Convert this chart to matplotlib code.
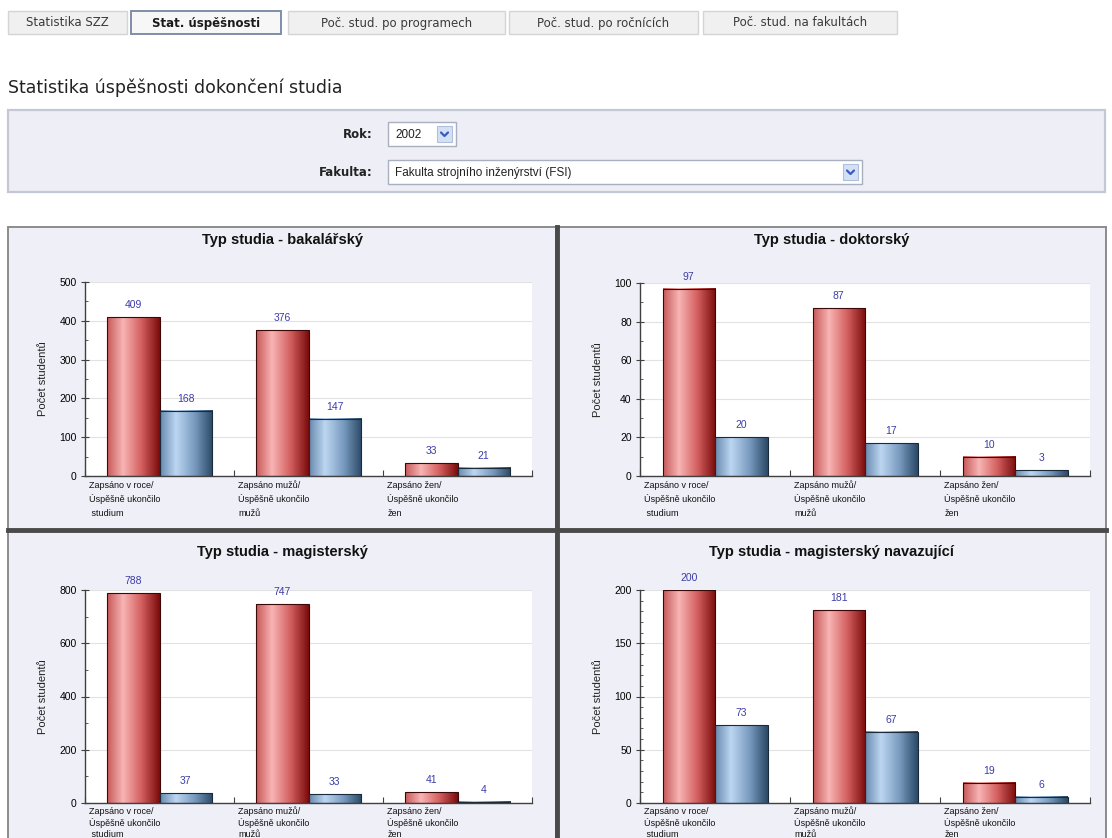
import numpy as np
import matplotlib
matplotlib.use("Agg")
import matplotlib.pyplot as plt
from matplotlib.patches import Rectangle
from matplotlib.colors import LinearSegmentedColormap
from matplotlib.ticker import MultipleLocator, AutoMinorLocator

W, H = 1112, 838

# page header
tabs = ["Statistika SZZ", "Stat. úspěšnosti", "Poč. stud. po programech",
        "Poč. stud. po ročnících", "Poč. stud. na fakultách"]
active_tab = 1
page_title = "Statistika úspěšnosti dokončení studia"
rok = "2002"
fakulta = "Fakulta strojního inženýrství (FSI)"

# chart data
categories = ["Zapsáno v roce/\nÚspěšně ukončilo\n studium",
              "Zapsáno mužů/\nÚspěšně ukončilo\nmužů",
              "Zapsáno žen/\nÚspěšně ukončilo\nžen"]

bak_zapsano = [409, 376, 33]
bak_ukoncilo = [168, 147, 21]
dok_zapsano = [97, 87, 10]
dok_ukoncilo = [20, 17, 3]
mag_zapsano = [788, 747, 41]
mag_ukoncilo = [37, 33, 4]
nav_zapsano = [200, 181, 19]
nav_ukoncilo = [73, 67, 6]

titles = ["Typ studia - bakalářský", "Typ studia - doktorský",
          "Typ studia - magisterský", "Typ studia - magisterský navazující"]
y_max = [500, 100, 800, 200]
y_step = [100, 20, 200, 50]
y_minor = [2, 2, 2, 5]

red_cm = LinearSegmentedColormap.from_list(
    "red", [(0, "#c85a5a"), (0.3, "#f8b4b4"), (0.65, "#d46060"), (1, "#7c0c0c")])
blue_cm = LinearSegmentedColormap.from_list(
    "blue", [(0, "#6a8cb0"), (0.3, "#bcd6f2"), (0.65, "#7a9cc0"), (1, "#2c4a68")])

fig = plt.figure(figsize=(W / 100, H / 100), dpi=100)
fig.patch.set_facecolor("white")

bg = fig.add_axes([0, 0, 1, 1])
bg.set_xlim(0, W)
bg.set_ylim(H, 0)
bg.axis("off")

# tabs
tab_x = [(8, 127), (131, 281), (288, 505), (509, 698), (703, 897)]
for i, (name, (x0, x1)) in enumerate(zip(tabs, tab_x)):
    act = i == active_tab
    bg.add_patch(Rectangle((x0, 11), x1 - x0, 23,
                           facecolor="#f7f7f7" if act else "#f0f0f0",
                           edgecolor="#7f8ea8" if act else "#d4d4d4",
                           lw=1.4 if act else 1.0))
    bg.text((x0 + x1) / 2, 23, name, ha="center", va="center",
            fontsize=8.5, family="DejaVu Sans", color="#1a1a1a" if act else "#3a3a3a",
            fontweight="bold" if act else "normal")

bg.text(8, 88, page_title, ha="left", va="center", fontsize=12.5,
        family="DejaVu Sans", color="#222222")

# filter form
bg.add_patch(Rectangle((8, 110), 1097, 82, facecolor="#eeeef7",
                       edgecolor="#c4c8d4", lw=1.6))
bg.text(373, 134, "Rok:", ha="right", va="center", fontsize=8.5,
        family="DejaVu Sans", fontweight="bold", color="#222222")
bg.text(373, 172, "Fakulta:", ha="right", va="center", fontsize=8.5,
        family="DejaVu Sans", fontweight="bold", color="#222222")


def select_box(x0, x1, yc, label):
    bg.add_patch(Rectangle((x0, yc - 12), x1 - x0, 24, facecolor="white",
                           edgecolor="#a8b0c0", lw=1.0))
    bg.text(x0 + 7, yc + 1, label, ha="left", va="center", fontsize=8.5,
            family="Liberation Sans", color="#222222")
    bx = x1 - 19
    bg.add_patch(Rectangle((bx, yc - 8), 15, 16, facecolor="#d4e0f4",
                           edgecolor="#b0c0dc", lw=0.8))
    cx = bx + 7.5
    bg.plot([cx - 3.5, cx, cx + 3.5], [yc - 1.5, yc + 2, yc - 1.5],
            color="#3a5cc0", lw=1.6, solid_capstyle="round")


select_box(388, 456, 134, rok)
select_box(388, 862, 172, fakulta)

# chart panels
panels = [(8, 227, 556, 530), (557, 227, 1106, 530),
          (8, 530, 556, 842), (557, 530, 1106, 842)]
plot_boxes = [(85, 282, 532, 476), (640, 283, 1090, 476),
              (85, 590, 532, 803), (640, 590, 1090, 803)]
title_y = [240, 240, 552, 552]
# baseline offsets (px below the x axis) of the three category label lines
label_rows = [(12, 26, 39.5), (12, 26, 39.5), (11, 22.5, 34), (11, 22.5, 34)]
series = [(bak_zapsano, bak_ukoncilo), (dok_zapsano, dok_ukoncilo),
          (mag_zapsano, mag_ukoncilo), (nav_zapsano, nav_ukoncilo)]

for (x0, y0, x1, y1) in panels:
    bg.add_patch(Rectangle((x0, y0), x1 - x0, y1 - y0, facecolor="#efeff7",
                           edgecolor="#8c8c8c", lw=1.4))
# darker frame where the panels meet
bg.plot([8, 1106], [530, 530], color="#4a4a4a", lw=3.5)
bg.plot([556.5, 556.5], [227, 838], color="#4a4a4a", lw=3.5)

w = 0.35
xpos = np.arange(len(categories))

for k in range(4):
    px0, py0, px1, py1 = plot_boxes[k]
    ax = fig.add_axes([px0 / W, 1 - py1 / H, (px1 - px0) / W, (py1 - py0) / H])
    ax.set_facecolor("white")
    zap, uk = series[k]

    bars_r = ax.bar(xpos - w, zap, w, align="edge", fill=False,
                    edgecolor="#3a0808", lw=0.8, zorder=3)
    bars_b = ax.bar(xpos, uk, w, align="edge", fill=False,
                    edgecolor="#1a2a3a", lw=0.8, zorder=3)
    for bars, cm, vals in ((bars_r, red_cm, zap), (bars_b, blue_cm, uk)):
        for p, v in zip(bars, vals):
            ax.imshow(np.linspace(0, 1, 64)[None, :], cmap=cm, aspect="auto",
                      extent=(p.get_x(), p.get_x() + p.get_width(), 0, p.get_height()),
                      zorder=2, interpolation="bilinear")
            ax.annotate(str(v), (p.get_x() + p.get_width() / 2, v),
                        xytext=(0, 5), textcoords="offset points",
                        ha="center", va="bottom", fontsize=7.5,
                        family="Liberation Sans", color="#3c3ca8")

    ax.set_xlim(-0.5, len(categories) - 0.5)
    ax.set_ylim(0, y_max[k])
    ax.yaxis.set_major_locator(MultipleLocator(y_step[k]))
    ax.yaxis.set_minor_locator(AutoMinorLocator(y_minor[k]))
    ax.yaxis.grid(True, color="#e2e2e2", lw=0.8, zorder=0)
    ax.set_axisbelow(True)

    for side in ("top", "right"):
        ax.spines[side].set_visible(False)
    for side in ("left", "bottom"):
        ax.spines[side].set_color("#404040")
        ax.spines[side].set_linewidth(1.0)

    ax.set_xticks(np.arange(len(categories) + 1) - 0.5)
    ax.set_xticklabels([])
    ax.tick_params(axis="x", direction="in", length=4, color="#404040")
    ax.tick_params(axis="y", which="major", direction="inout", length=6,
                   color="#404040", labelsize=7.5, pad=3)
    ax.tick_params(axis="y", which="minor", direction="in", length=2.5,
                   color="#404040")
    for lab in ax.get_yticklabels():
        lab.set_family("Liberation Sans")

    # category labels, one line at a time so all baselines line up
    for i, cat in enumerate(categories):
        for line, off in zip(cat.split("\n"), label_rows[k]):
            ax.annotate(line, (i - 0.47, 0), xytext=(0, -off * 0.72),
                        textcoords="offset points", ha="left", va="baseline",
                        fontsize=6.5, family="Liberation Sans", color="#111111",
                        annotation_clip=False)

    ax.set_ylabel("Počet studentů", fontsize=8, family="Liberation Sans",
                  labelpad=8, color="#222222")

    cx = (panels[k][0] + panels[k][2]) / 2
    bg.text(cx, title_y[k], titles[k], ha="center", va="center", fontsize=10.5,
            family="Liberation Sans", fontweight="bold", color="#111111")

fig.savefig("out.png", dpi=100, facecolor="white")
